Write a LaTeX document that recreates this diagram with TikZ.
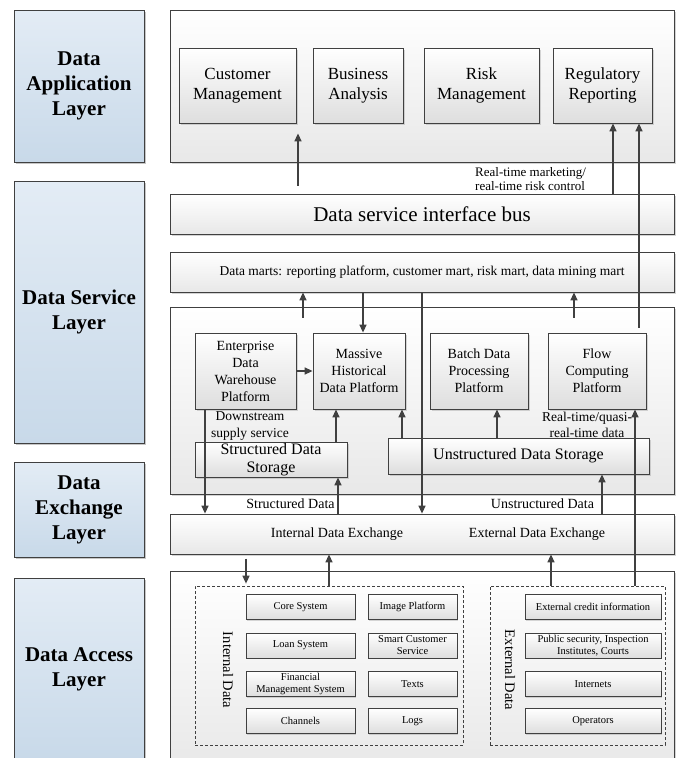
\documentclass[tikz,border=0pt]{standalone}
\usepackage{fontspec}
\setmainfont{Liberation Serif}
\usetikzlibrary{arrows.meta, shadows}

\definecolor{layertop}{HTML}{E3ECF5}
\definecolor{layerbot}{HTML}{C8D9E9}
\definecolor{edge}{HTML}{404040}

\begin{document}
\begin{tikzpicture}[x=1pt, y=1pt, >={Triangle[length=8pt, width=7pt]},
      layer/.style={draw=edge, line width=0.8pt, top color=layertop, bottom color=layerbot,
                    minimum width=130pt, inner sep=0pt, align=center,
                    font=\fontsize{21}{25}\selectfont\bfseries,
                    drop shadow={shadow xshift=2pt, shadow yshift=-2pt, opacity=.45}},
      panel/.style={draw=edge, line width=0.8pt, top color=white, bottom color=black!9,
                    minimum width=504pt, inner sep=0pt, align=center,
                    drop shadow={shadow xshift=2pt, shadow yshift=-2pt, opacity=.35}},
      appbox/.style={draw=edge, line width=0.8pt, top color=white, bottom color=black!13,
                     minimum height=75pt, inner sep=0pt, align=center,
                     font=\fontsize{17}{20.5}\selectfont,
                     drop shadow={shadow xshift=1.5pt, shadow yshift=-1.5pt, opacity=.3}},
      svcbox/.style={draw=edge, line width=0.8pt, top color=white, bottom color=black!13,
                     inner sep=0pt, align=center, font=\fontsize{14}{17}\selectfont,
                     drop shadow={shadow xshift=1.5pt, shadow yshift=-1.5pt, opacity=.3}},
      srcbox/.style={draw=edge, line width=0.7pt, top color=white, bottom color=black!13,
                     minimum height=25pt, inner sep=0pt, align=center,
                     font=\fontsize{10.5}{12}\selectfont,
                     drop shadow={shadow xshift=1pt, shadow yshift=-1pt, opacity=.3}},
      grp/.style={draw=edge, line width=0.7pt, dash pattern=on 3pt off 2pt,
                  minimum width=0pt, inner sep=0pt},
      arr/.style={->, draw=edge, line width=1.4pt},
      lbl/.style={font=\fontsize{13.5}{16}\selectfont, inner sep=0pt, align=center}]

    \useasboundingbox (0,0) rectangle (683,-758);
    \clip (0,0) rectangle (683,-758);

    % layer captions on the left
    \node[layer, minimum height=152pt] (lapp) at (79,-86) {Data\\Application\\Layer};
    \node[layer, minimum height=262pt] (lsvc) at (79,-312) {Data Service\\Layer};
    \node[layer, minimum height=95pt] (lexc) at (79,-509.5) {Data\\Exchange\\Layer};
    \node[layer, minimum height=182pt] (lacc) at (79,-669) {Data Access\\Layer};

    % panels and bars on the right
    \node[panel, minimum height=152pt] (papp) at (422,-86) {};
    \node[panel, minimum height=40pt, font=\fontsize{21}{24}\selectfont] (bus) at (422,-214)
      {Data service interface bus};
    \node[panel, minimum height=40pt, font=\fontsize{13.5}{16}\selectfont] (mart) at (422,-272)
      {Data marts: reporting platform, customer mart, risk mart, data mining mart};
    \node[panel, minimum height=187pt] (psvc) at (422,-400.5) {};
    \node[panel, minimum height=40pt] (exch) at (422,-534) {};
    \node[panel, minimum height=199pt] (pacc) at (422,-670.5) {};

    % application layer
    \node[appbox, minimum width=117pt] (cm) at (237.5,-85.5) {Customer\\Management};
    \node[appbox, minimum width=90pt] (ba) at (358,-85.5) {Business\\Analysis};
    \node[appbox, minimum width=115pt] (rm) at (481.5,-85.5) {Risk\\Management};
    \node[appbox, minimum width=99pt] (rr) at (602.5,-85.5) {Regulatory\\Reporting};

    % service layer platforms
    \node[svcbox, minimum width=101pt, minimum height=76pt] (edw) at (245.5,-371)
      {Enterprise\\Data\\Warehouse\\Platform};
    \node[svcbox, minimum width=92pt, minimum height=76pt] (mhd) at (359,-371)
      {Massive\\Historical\\Data Platform};
    \node[svcbox, minimum width=98pt, minimum height=76pt] (bdp) at (479,-371)
      {Batch Data\\Processing\\Platform};
    \node[svcbox, minimum width=98pt, minimum height=76pt] (fcp) at (597,-371)
      {Flow\\Computing\\Platform};
    \node[svcbox, minimum width=152pt, minimum height=35pt, font=\fontsize{16}{18}\selectfont]
      (sds) at (271,-459.5) {Structured Data\\Storage};
    \node[svcbox, minimum width=261pt, minimum height=36pt, font=\fontsize{16}{18}\selectfont]
      (uds) at (518.5,-456) {Unstructured Data Storage};

    % exchange layer texts
    \node[lbl, font=\fontsize{14}{16}\selectfont] (inex) at (337,-534) {Internal Data Exchange};
    \node[lbl, font=\fontsize{14}{16}\selectfont] (exex) at (537,-534) {External Data Exchange};

    % access layer: internal and external data
    \node[grp, minimum width=268pt, minimum height=159pt] (intd) at (329,-665.5) {};
    \node[grp, minimum width=175pt, minimum height=159pt] (extd) at (577.5,-665.5) {};
    \node[lbl, font=\fontsize{14.5}{16}\selectfont, rotate=-90] (intl) at (228,-670) {Internal Data};
    \node[lbl, font=\fontsize{14.5}{16}\selectfont, rotate=-90] (extl) at (510,-670) {External Data};

    \node[srcbox, minimum width=109pt] (core) at (300.5,-607) {Core System};
    \node[srcbox, minimum width=109pt] (loan) at (300.5,-645.5) {Loan System};
    \node[srcbox, minimum width=109pt] (fin) at (300.5,-684) {Financial\\Management System};
    \node[srcbox, minimum width=109pt] (chan) at (300.5,-721) {Channels};
    \node[srcbox, minimum width=89pt] (img) at (412.5,-607) {Image Platform};
    \node[srcbox, minimum width=89pt] (scs) at (412.5,-645.5) {Smart Customer\\Service};
    \node[srcbox, minimum width=89pt] (txt) at (412.5,-684) {Texts};
    \node[srcbox, minimum width=89pt] (logs) at (412.5,-721) {Logs};

    \node[srcbox, minimum width=136pt] (cred) at (593,-607) {External credit information};
    \node[srcbox, minimum width=136pt] (pub) at (593,-645.5) {Public security, Inspection\\Institutes, Courts};
    \node[srcbox, minimum width=136pt] (inet) at (593,-684) {Internets};
    \node[srcbox, minimum width=136pt] (oper) at (593,-721) {Operators};

    % arrows into the application layer
    \draw[arr] ([xshift=60.5pt,yshift=8pt]bus.north west -| cm.south) -- ([xshift=60.5pt,yshift=-10pt]cm.south);
    \draw[arr] ([xshift=10.5pt]rr.south |- bus.north) -- ([xshift=10.5pt]rr.south);
    \draw[arr] ([xshift=42pt,yshift=5pt]fcp.north) -- ([xshift=42pt]fcp.north |- rr.south);
    \node[lbl, font=\fontsize{13}{13.5}\selectfont, align=left, anchor=west] (lblrt) at (475,-179)
      {Real-time marketing/\\real-time risk control};

    % service layer connections
    \draw[arr] ([xshift=57.5pt,yshift=15pt]edw.north) -- ([xshift=57.5pt]edw.north |- mart.south);
    \draw[arr] ([xshift=4pt]mhd.north |- mart.south) -- ([xshift=4pt]mhd.north);
    \draw[arr] (mart.south) -- (exch.north);
    \draw[arr] ([xshift=-23pt,yshift=15pt]fcp.north) -- ([xshift=-23pt]fcp.north |- mart.south);
    \draw[arr] (edw.east) -- (mhd.west);
    \draw[arr] ([xshift=65pt]sds.north) -- ([xshift=65pt]sds.north |- mhd.south);
    \draw[arr] ([xshift=43pt]mhd.south |- uds.north) -- ([xshift=43pt]mhd.south);
    \draw[arr] ([xshift=18pt]bdp.south |- uds.north) -- ([xshift=18pt]bdp.south);
    \draw[arr] ([xshift=38pt]fcp.south |- extd.north) -- ([xshift=38pt]fcp.south);
    \node[lbl] (lblqr) at (587,-424.5) {Real-time/quasi-\\real-time data};
    \draw[arr] ([xshift=-40.5pt]edw.south) -- ([xshift=-40.5pt]edw.south |- exch.north);
    \node[lbl, font=\fontsize{13.5}{17.5}\selectfont] (lblds) at (250,-426) {Downstream\\supply service};

    % exchange layer connections
    \draw[arr] ([xshift=67pt]sds.south |- exch.north) -- ([xshift=67pt]sds.south);
    \node[lbl, font=\fontsize{14}{16}\selectfont] (lblsd) at (290.5,-504) {Structured Data};
    \draw[arr] ([xshift=83.5pt]uds.south |- exch.north) -- ([xshift=83.5pt]uds.south);
    \node[lbl, font=\fontsize{14}{16}\selectfont] (lblud) at (542.5,-504) {Unstructured Data};

    % access layer connections
    \draw[arr] ([xshift=-83pt,yshift=27pt]intd.north) -- ([xshift=-83pt,yshift=2pt]intd.north);
    \draw[arr] (intd.north) -- (intd.north |- exch.south);
    \draw[arr] ([xshift=-26.5pt]extd.north) -- ([xshift=-26.5pt]extd.north |- exch.south);

\end{tikzpicture}
\end{document}
